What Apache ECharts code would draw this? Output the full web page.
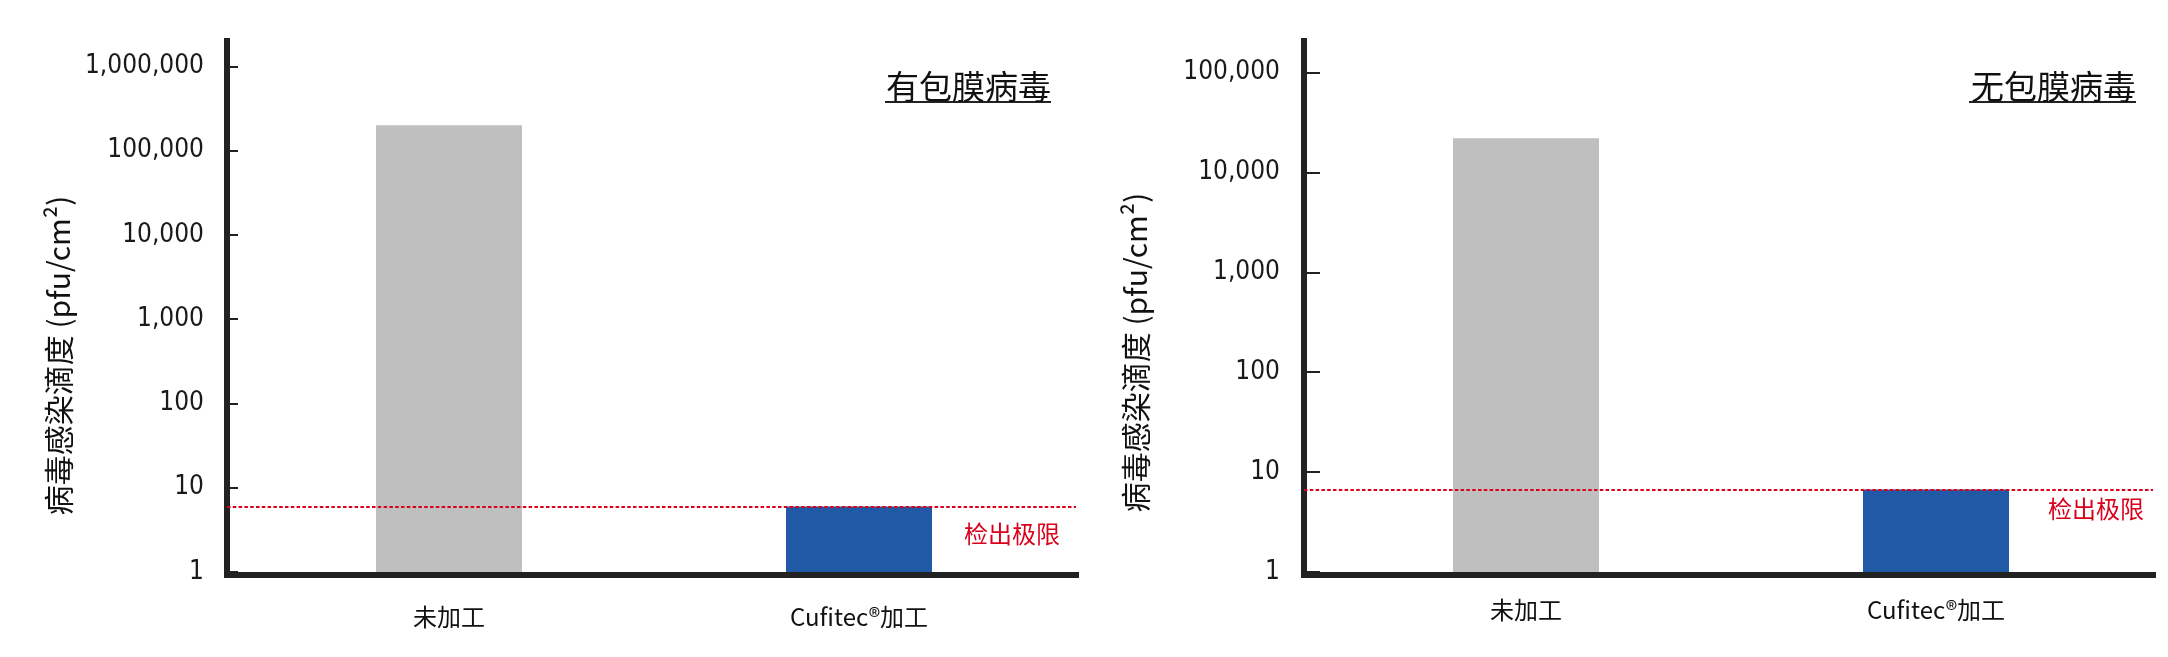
<!DOCTYPE html>
<html>
<head>
<meta charset="utf-8">
<title>病毒感染滴度</title>
<script src="https://cdn.jsdelivr.net/npm/echarts@6/dist/echarts.min.js"></script>
<style>
  html, body { margin: 0; padding: 0; background: #fff; }
  #chart-container { width: 2168px; height: 657px; }
</style>
</head>
<body>
<div id="chart-container"></div>
<script>
// data
var categories = ["未加工", "Cufitec®加工"];
var envelopedValues = [200000, 6];
var nonEnvelopedValues = [22000, 6.7];
var envelopedLimit = 6;
var nonEnvelopedLimit = 6.7;
var envelopedTicks = [1, 10, 100, 1000, 10000, 100000, 1000000];
var nonEnvelopedTicks = [1, 10, 100, 1000, 10000, 100000];
var envelopedMax = 2000000;
var nonEnvelopedMax = 207000;
var panelTitles = ["有包膜病毒", "无包膜病毒"];
var yName = "病毒感染滴度 (pfu/cm²)";
var limitText = "检出极限";
var barColors = ["#bfbfbf", "#205aa7"];

var CJK = "'Noto Sans CJK SC', 'Noto Sans', sans-serif";
var NUM = "'DejaVu Sans Condensed', 'Liberation Sans', sans-serif";
var AXIS_COLOR = "#222";
var RED = "#d9001b";

var dom = document.getElementById("chart-container");
var myChart = echarts.init(dom, null, { renderer: "canvas" });

function fmt(v) {
  return Math.round(v).toLocaleString("en-US");
}

// visible y axis, sits 17px left of the bar area
function yAxisFor(gridIndex, max, ticks, tickLen, labelMargin, namePad) {
  return {
    gridIndex: gridIndex,
    type: "log",
    logBase: 10,
    min: 1,
    max: max,
    offset: 17,
    name: yName,
    nameLocation: "middle",
    nameRotate: 90,
    nameGap: 153,
    nameTextStyle: {
      fontFamily: CJK,
      fontSize: 30,
      color: "#111",
      padding: [0, namePad, 0, 0],
    },
    axisLine: {
      show: true,
      lineStyle: { color: AXIS_COLOR, width: 6, cap: "square" },
    },
    axisTick: {
      show: true,
      inside: true,
      length: tickLen,
      customValues: ticks,
      lineStyle: { color: AXIS_COLOR, width: 2 },
    },
    axisLabel: {
      customValues: ticks,
      margin: labelMargin,
      fontFamily: NUM,
      fontSize: 26,
      color: "#1a1a1a",
      formatter: fmt,
    },
    splitLine: { show: false },
  };
}

// hidden twin y axis for the full-width frame grid
function frameYAxis(gridIndex, max) {
  return { gridIndex: gridIndex, type: "log", logBase: 10, min: 1, max: max, show: false };
}

function xAxisFor(gridIndex, labelMargin) {
  return {
    gridIndex: gridIndex,
    type: "category",
    data: categories,
    offset: 3,
    axisLine: { show: false },
    axisTick: { show: false },
    axisLabel: {
      margin: labelMargin,
      fontFamily: CJK,
      fontSize: 24,
      color: "#111",
    },
  };
}

function frameXAxis(gridIndex) {
  return {
    gridIndex: gridIndex,
    type: "category",
    data: categories,
    offset: 3,
    axisLine: {
      show: true,
      lineStyle: { color: AXIS_COLOR, width: 6, cap: "square" },
    },
    axisTick: { show: false },
    axisLabel: { show: false },
  };
}

function barSeries(idx, values) {
  return {
    type: "bar",
    xAxisIndex: idx,
    yAxisIndex: idx,
    barWidth: 146,
    data: values.map(function (v, i) {
      return { value: v, itemStyle: { color: barColors[i] } };
    }),
  };
}

function limitSeries(idx, limit, labelDist) {
  return {
    type: "line",
    xAxisIndex: idx,
    yAxisIndex: idx,
    data: [],
    markLine: {
      silent: true,
      symbol: "none",
      lineStyle: { color: RED, type: [3.5, 2.3], width: 2 },
      label: {
        show: true,
        position: "insideEndBottom",
        distance: labelDist,
        formatter: limitText,
        color: RED,
        fontFamily: CJK,
        fontSize: 24,
      },
      data: [{ yAxis: limit }],
    },
  };
}

var option = {
  animation: false,
  backgroundColor: "#fff",
  title: panelTitles.map(function (t, i) {
    return {
      text: t,
      right: i === 0 ? 1117 : 32,
      top: 66,
      padding: 0,
      textStyle: {
        fontFamily: CJK,
        fontSize: 33,
        fontWeight: "normal",
        color: "#111",
        lineHeight: 40,
      },
    };
  }),
  graphic: [
    { type: "line", shape: { x1: 885, y1: 102, x2: 1051, y2: 102 }, style: { stroke: "#222", lineWidth: 2 } },
    { type: "line", shape: { x1: 1969, y1: 102, x2: 2136, y2: 102 }, style: { stroke: "#222", lineWidth: 2 } },
  ],
  grid: [
    // bar areas
    { left: 244, right: 1104, top: 41, bottom: 85 },
    { left: 1321, right: 27, top: 41, bottom: 85 },
    // full frames (axis line + limit line)
    { left: 227, right: 1092, top: 41, bottom: 85 },
    { left: 1304, right: 15, top: 41, bottom: 85 },
  ],
  xAxis: [xAxisFor(0, 30), xAxisFor(1, 23), frameXAxis(2), frameXAxis(3)],
  yAxis: [
    yAxisFor(0, envelopedMax, envelopedTicks, 11, 23, 98),
    yAxisFor(1, nonEnvelopedMax, nonEnvelopedTicks, 16, 24, 92),
    frameYAxis(2, envelopedMax),
    frameYAxis(3, nonEnvelopedMax),
  ],
  series: [
    barSeries(0, envelopedValues),
    barSeries(1, nonEnvelopedValues),
    limitSeries(2, envelopedLimit, [16, 15]),
    limitSeries(3, nonEnvelopedLimit, [9, 7]),
  ],
};

myChart.setOption(option);
window.addEventListener("resize", myChart.resize);
</script>
</body>
</html>
